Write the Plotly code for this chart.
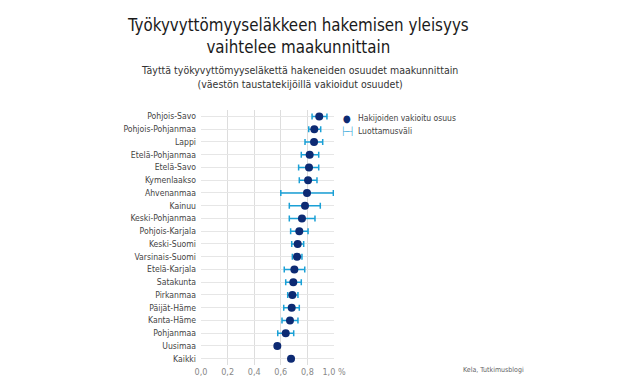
import plotly.graph_objects as go

regions = ["Pohjois-Savo", "Pohjois-Pohjanmaa", "Lappi", "Etelä-Pohjanmaa", "Etelä-Savo",
           "Kymenlaakso", "Ahvenanmaa", "Kainuu", "Keski-Pohjanmaa", "Pohjois-Karjala",
           "Keski-Suomi", "Varsinais-Suomi", "Etelä-Karjala", "Satakunta", "Pirkanmaa",
           "Päijät-Häme", "Kanta-Häme", "Pohjanmaa", "Uusimaa", "Kaikki"]
share = [0.889, 0.852, 0.850, 0.817, 0.812, 0.805, 0.797, 0.782, 0.759, 0.739,
         0.727, 0.722, 0.702, 0.694, 0.687, 0.682, 0.669, 0.637, 0.574, 0.677]
ci_low = [0.835, 0.810, 0.782, 0.754, 0.734, 0.739, 0.600, 0.664, 0.664, 0.674,
          0.682, 0.687, 0.626, 0.637, 0.652, 0.622, 0.609, 0.577, 0.560, None]
ci_high = [0.947, 0.900, 0.915, 0.885, 0.885, 0.872, 0.995, 0.897, 0.857, 0.805,
           0.772, 0.759, 0.780, 0.754, 0.729, 0.739, 0.729, 0.697, 0.585, None]
tick_vals = [0.0, 0.2, 0.4, 0.6, 0.8, 1.0]
tick_text = ["0,0", "0,2", "0,4", "0,6", "0,8", "1,0 %"]

err_plus = [(h - s) if h is not None else 0 for h, s in zip(ci_high, share)]
err_minus = [(s - l) if l is not None else 0 for l, s in zip(ci_low, share)]
ci_x = [s if l is not None else None for s, l in zip(share, ci_low)]

FONT = "DejaVu Sans Condensed, Roboto, sans-serif"
NAVY = "#0d2a73"
CIBLUE = "#1aa0d6"

fig = go.Figure()
fig.add_trace(go.Scatter(
    x=ci_x, y=regions, mode="markers",
    marker=dict(size=1, opacity=0),
    error_x=dict(type="data", symmetric=False, array=err_plus, arrayminus=err_minus,
                 color=CIBLUE, thickness=1.5, width=3),
    showlegend=False, hoverinfo="skip"))
fig.add_trace(go.Scatter(
    x=share, y=regions, mode="markers", name="Hakijoiden vakioitu osuus",
    marker=dict(size=8, color=NAVY), showlegend=False))

px_w = 133.0
def px(xpix):
    return (xpix - 201) / px_w

fig.update_layout(
    width=640, height=390,
    margin=dict(l=201, r=306, t=110, b=25, pad=0, autoexpand=False),
    paper_bgcolor="white", plot_bgcolor="white",
    font=dict(family=FONT, color="#444444", size=10),
    showlegend=False,
    xaxis=dict(range=[0, 1.0], tickvals=tick_vals, ticktext=tick_text, automargin=False,
               showgrid=True, gridcolor="#dddddd", gridwidth=1, zeroline=False,
               showline=False, ticks="", tickfont=dict(size=9, color="#888888")),
    yaxis=dict(categoryorder="array", categoryarray=regions, range=[19.5, -0.5],
               tickmode="linear", dtick=1, automargin=False,
               showgrid=True, gridcolor="#e6e6e6", gridwidth=1, ticks="",
               ticklabelstandoff=4, tickfont=dict(size=8.6, color="#444444")),
    annotations=[
        dict(text="Työkyvyttömyyseläkkeen hakemisen yleisyys<br>vaihtelee maakunnittain",
             xref="paper", yref="paper", x=px(298), y=1.0, yshift=97, xanchor="center",
             yanchor="top", showarrow=False,
             font=dict(size=16.8, color="#1a1a1a")),
        dict(text="Täyttä työkyvyttömyyseläkettä hakeneiden osuudet maakunnittain<br>(väestön taustatekijöillä vakioidut osuudet)",
             xref="paper", yref="paper", x=px(299), y=1.0, yshift=48, xanchor="center",
             yanchor="top", showarrow=False,
             font=dict(size=10.5, color="#333333")),
        dict(text="●", xref="paper", yref="paper", x=px(347), y=1.0, yshift=-8,
             xanchor="center", yanchor="middle", showarrow=False,
             font=dict(size=10, color=NAVY)),
        dict(text="Hakijoiden vakioitu osuus", xref="paper", yref="paper", x=px(356), y=1.0,
             yshift=-8, xanchor="left", yanchor="middle", showarrow=False,
             font=dict(size=8.5, color="#444444")),
        dict(text="├─┤", xref="paper", yref="paper", x=px(347), y=1.0, yshift=-21,
             xanchor="center", yanchor="middle", showarrow=False,
             font=dict(size=8, color=CIBLUE)),
        dict(text="Luottamusväli", xref="paper", yref="paper", x=px(356), y=1.0,
             yshift=-21, xanchor="left", yanchor="middle", showarrow=False,
             font=dict(size=8.5, color="#444444")),
        dict(text="Kela, Tutkimusblogi", xref="paper", yref="paper",
             x=px(461), y=0, yshift=1, xanchor="left", yanchor="top",
             showarrow=False, font=dict(size=7, color="#666666")),
    ],
)

fig.write_html("out.html", config={"displayModeBar": False},
               post_script="document.body.style.margin='0';document.body.style.overflow='hidden';")
